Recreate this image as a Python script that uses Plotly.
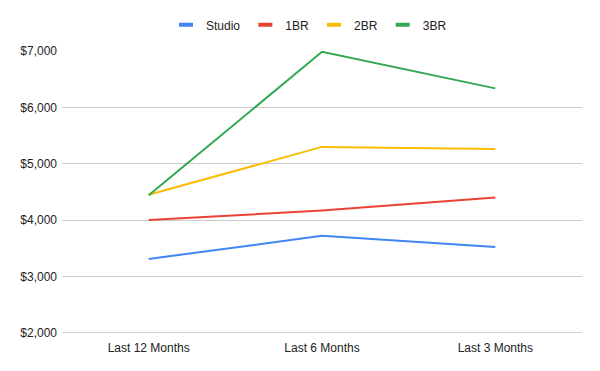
import plotly.graph_objects as go

periods = ["Last 12 Months", "Last 6 Months", "Last 3 Months"]
studio = [3310, 3720, 3520]
br1 = [4000, 4170, 4400]
br2 = [4450, 5300, 5265]
br3 = [4440, 6990, 6340]

series = [("Studio", studio, "#4285F4"), ("1BR", br1, "#EA4335"),
          ("2BR", br2, "#FBBC04"), ("3BR", br3, "#34A853")]

fig = go.Figure()
for name, vals, col in series:
    fig.add_trace(go.Scatter(x=periods, y=vals, name=name, mode="lines",
                             line=dict(color=col, width=2), showlegend=False))
for name, vals, col in series:
    fig.add_trace(go.Scatter(x=[None], y=[None], name=name, mode="markers",
                             marker=dict(symbol="line-ew-open", size=10, color=col,
                                         line=dict(color=col, width=4)),
                             showlegend=True))

fig.add_hline(y=2000, line=dict(color="#cccccc", width=1), layer="below")

fig.update_layout(
    width=600, height=371,
    margin=dict(l=62, r=18, t=51, b=38, autoexpand=False),
    paper_bgcolor="white", plot_bgcolor="white",
    font=dict(family="Liberation Sans, Arial", size=12, color="#222222"),
    legend=dict(orientation="h", x=0.515, xanchor="center", y=0.933, yanchor="middle",
                xref="container", yref="container", font=dict(size=12, color="#222222"),
                itemwidth=30, tracegroupgap=0),
    showlegend=True,
)
fig.update_xaxes(range=[-0.5, 2.5], showgrid=False, showline=False, ticks="",
                 ticklabelstandoff=6,
                 tickfont=dict(size=12, color="#222222"))
fig.update_yaxes(range=[1994, 7004], dtick=1000, tickprefix="$", tickformat=",d",
                 showgrid=True, gridcolor="#cccccc", gridwidth=1, zeroline=False,
                 showline=False, ticks="", ticklabelstandoff=4,
                 tickfont=dict(size=12, color="#222222"))

fig.write_html("out.html")
